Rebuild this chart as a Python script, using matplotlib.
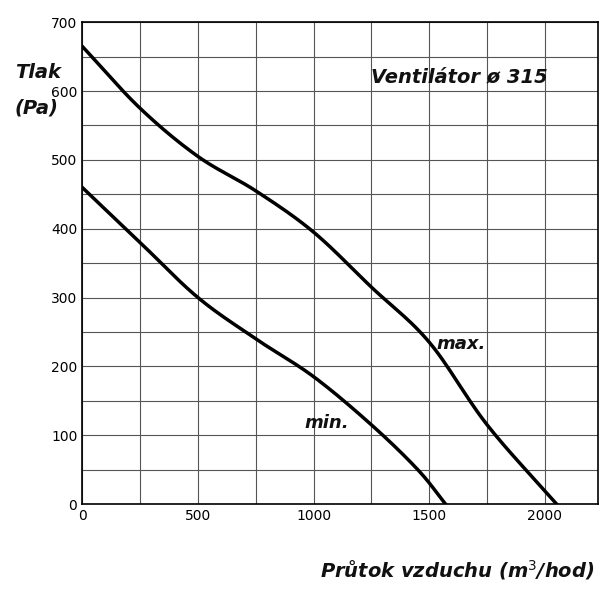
import matplotlib
matplotlib.use("Agg")
import matplotlib.pyplot as plt
import numpy as np

max_x = [0, 250, 500, 750, 1000, 1250, 1500, 1750, 2050]
max_y = [665, 575, 505, 455, 395, 315, 235, 115, 0]
min_x = [0, 250, 500, 750, 1000, 1250, 1450, 1570]
min_y = [460, 380, 300, 240, 185, 115, 50, 0]

def smooth(x, y):
    P = np.column_stack([np.asarray(x, float), np.asarray(y, float)])
    P = np.vstack([2*P[0]-P[1], P, 2*P[-1]-P[-2]])
    xs, ys = [], []
    for i in range(1, len(P)-2):
        p0, p1, p2, p3 = P[i-1], P[i], P[i+1], P[i+2]
        for s in np.linspace(0, 1, 25, endpoint=False):
            v = 0.5*((2*p1) + (-p0+p2)*s + (2*p0-5*p1+4*p2-p3)*s**2 + (-p0+3*p1-3*p2+p3)*s**3)
            xs.append(v[0]); ys.append(v[1])
    xs.append(P[-2][0]); ys.append(P[-2][1])
    return xs, ys

fig = plt.figure(figsize=(6, 6), dpi=100)
ax = fig.add_axes([0.137, 0.16, 0.86, 0.803])
ax.set_xlim(0, 2230)
ax.set_ylim(0, 700)
ax.set_xticks(np.arange(0, 2250, 250), minor=True)
ax.set_xticks([0, 500, 1000, 1500, 2000])
ax.set_yticks(np.arange(0, 701, 100))
ax.set_yticks(np.arange(0, 701, 50), minor=True)
ax.grid(True, which='both', color='#555555', linewidth=0.8)
ax.tick_params(which='both', length=0, labelsize=10)
for s in ax.spines.values():
    s.set_linewidth(1.2)

for xs_, ys_ in [(max_x, max_y), (min_x, min_y)]:
    xs, ys = smooth(xs_, ys_)
    ax.plot(xs, ys, color='black', linewidth=2.5)

fs = dict(fontweight='bold', fontstyle='italic', color='#111111')
ax.text(1250, 612, 'Ventilátor ø 315', fontsize=14, **fs)
ax.text(1530, 225, 'max.', fontsize=13, **fs)
ax.text(960, 110, 'min.', fontsize=13, **fs)
fig.text(0.025, 0.88, 'Tlak', fontsize=14, ha='left', va='center', **fs)
fig.text(0.025, 0.82, '(Pa)', fontsize=14, ha='left', va='center', **fs)
fig.text(0.99, 0.05, 'Průtok vzduchu (m$^3$/hod)', fontsize=14, ha='right', va='center', **fs)

fig.savefig('out.png', dpi=100)
